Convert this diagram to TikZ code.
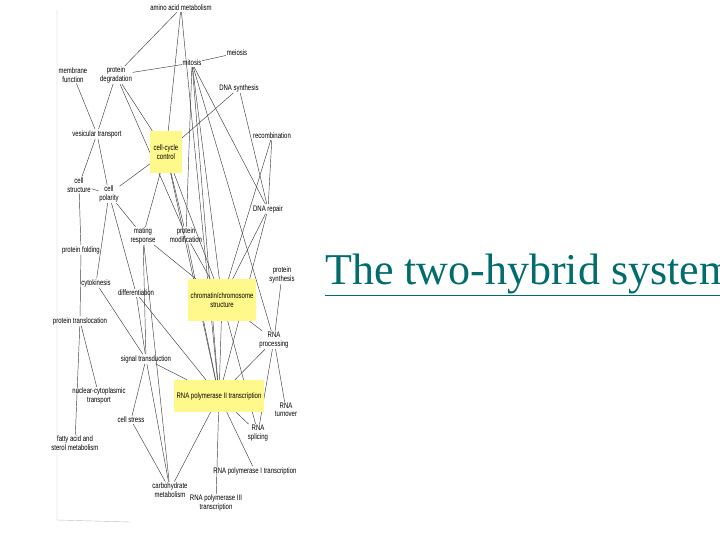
\documentclass[tikz,border=0pt]{standalone}
\usepackage{fontspec}
\setmainfont{Liberation Serif}
\newfontfamily\lab{Liberation Sans}
\pgfdeclarelayer{bg}
\pgfsetlayers{bg,main}
\begin{document}
\begin{tikzpicture}[x=1pt,y=-1pt,
  t/.style={font=\lab\fontsize{8}{8.5}\selectfont,align=center,inner sep=1pt,xscale=0.75},
  hb/.style={t,fill=yellow!45,inner sep=3pt},
  e/.style={draw=black!75,line width=0.45pt}]
\useasboundingbox (0,0) rectangle (720,540);
\begin{pgfonlayer}{bg}
\fill[white] (0,0) rectangle (720,540);
\end{pgfonlayer}
\draw[black!25,line width=0.4pt] (57,10) -- (57,520) (57,520) -- (130,522);
\node[t] (aa) at (181,8) {amino acid metabolism};
\node[t] (mei) at (237,53) {meiosis};
\node[t] (mit) at (192,63) {mitosis};
\node[t] (mem) at (73,75) {membrane\\function};
\node[t] (pd) at (116,75) {protein\\degradation};
\node[t] (ds) at (239,88) {DNA synthesis};
\node[t] (vt) at (97,134) {vesicular transport};
\node[hb,minimum width=42pt,minimum height=42pt] (cc) at (166,152) {cell-cycle\\control};
\node[t] (rec) at (272,136) {recombination};
\node[t] (cs) at (79,185) {cell\\structure};
\node[t] (cp) at (109,194) {cell\\polarity};
\node[t] (dr) at (268,209) {DNA repair};
\node[t] (mr) at (143,236) {mating\\response};
\node[t] (pm) at (186,235) {protein\\modification};
\node[t] (pf) at (81,250) {protein folding};
\node[t] (ps) at (282,275) {protein\\synthesis};
\node[t] (cy) at (96,283) {cytokinesis};
\node[t] (di) at (136,293) {differentiation};
\node[hb,minimum width=78pt,minimum height=42pt] (ch) at (222,300) {chromatin/chromosome\\structure};
\node[t] (pt) at (80,321) {protein translocation};
\node[t] (rp) at (274,340) {RNA\\processing};
\node[t] (st) at (146,359) {signal transduction};
\node[t] (nc) at (99,396) {nuclear-cytoplasmic\\transport};
\node[hb,minimum width=105pt,minimum height=32pt] (r2) at (219,396) {RNA polymerase II transcription};
\node[t] (rt) at (286,410) {RNA\\turnover};
\node[t] (cst) at (131,420) {cell stress};
\node[t] (fa) at (75,443) {fatty acid and\\sterol metabolism};
\node[t] (rs) at (258,433) {RNA\\splicing};
\node[t] (r1) at (255,471) {RNA polymerase I transcription};
\node[t] (cm) at (170,490) {carbohydrate\\metabolism};
\node[t] (r3) at (216,503) {RNA polymerase III\\transcription};
\begin{pgfonlayer}{bg}
\foreach \a/\b in {aa/pd,aa/cc,mit/mei,mit/pd,pd/vt,pd/cc,pd/pm,mem/vt,vt/cs,vt/cp,cs/cp,cs/pf,cp/cc,cp/mr,cp/cy,cp/di,
 ds/cc,ds/dr,dr/rec,rec/ch,dr/ch,mit/ch,mit/dr,mit/pm,mit/rp,cc/ch,cc/mr,cc/r2,cc/pm,mr/st,mr/ch,pm/ch,pm/r2,
 pf/pt,di/st,di/r2,pt/nc,pt/fa,ch/rp,ch/r2,ch/rs,ps/rp,rp/r2,rp/rs,rp/rt,st/r2,st/cst,st/cm,r2/cm,r2/r3,r2/r1,r2/rs,
 cst/cm,aa/r2,mit/r2,dr/r2,mr/cm,cy/st}
 \draw[e] (\a) -- (\b);
\end{pgfonlayer}
\node[anchor=west,inner sep=0pt,text=teal!85!black,font=\fontsize{44}{44}\selectfont] (link) at (325,275) {\underline{The two-hybrid system}};
\end{tikzpicture}
\end{document}
